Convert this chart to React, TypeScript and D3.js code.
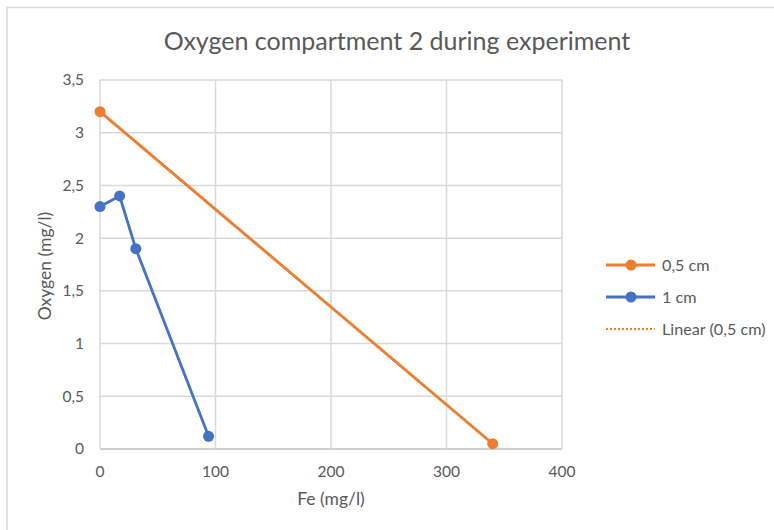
import React from "react";
import * as d3 from "d3";

// Series: Fe (mg/l) vs Oxygen (mg/l)
const feHalfCm = [0, 340];
const oxygenHalfCm = [3.2, 0.05];
const feOneCm = [0, 17, 31, 94];
const oxygenOneCm = [2.3, 2.4, 1.9, 0.12];

const xTicks = [0, 100, 200, 300, 400];
const yTicks = [0, 0.5, 1, 1.5, 2, 2.5, 3, 3.5];

const seriesNames = ["0,5 cm", "1 cm", "Linear (0,5 cm)"];

const W = 774;
const H = 530;
const ORANGE = "#ED7D31";
const BLUE = "#4472C4";
const TEXT = "#595959";
const GRID = "#d9d9d9";
const FONT = "Lato, 'Open Sans', sans-serif";

const fmt = (v: number) => String(v).replace(".", ",");

export default function App() {
  const x = d3.scaleLinear().domain([0, 400]).range([100, 562]);
  const y = d3.scaleLinear().domain([0, 3.5]).range([449, 80]);

  const half = feHalfCm.map((v, i) => [v, oxygenHalfCm[i]] as [number, number]);
  const one = feOneCm.map((v, i) => [v, oxygenOneCm[i]] as [number, number]);

  const line = d3
    .line<[number, number]>()
    .x((d) => x(d[0]))
    .y((d) => y(d[1]));

  // least-squares trendline for the 0,5 cm series
  const mx = d3.mean(feHalfCm) as number;
  const my = d3.mean(oxygenHalfCm) as number;
  const sxy = d3.sum(half, (d) => (d[0] - mx) * (d[1] - my));
  const sxx = d3.sum(half, (d) => (d[0] - mx) ** 2);
  const slope = sxy / sxx;
  const intercept = my - slope * mx;
  const xMin = d3.min(feHalfCm) as number;
  const xMax = d3.max(feHalfCm) as number;
  const trend: [number, number][] = [
    [xMin, intercept + slope * xMin],
    [xMax, intercept + slope * xMax],
  ];

  const legendY = [265, 297, 329];

  return (
    <svg
      width={W}
      height={H}
      style={{ position: "absolute", left: 0, top: 0, background: "#fff" }}
      fontFamily={FONT}
    >
      <rect x={0} y={0} width={W} height={H} fill="#fff" />
      <path d={`M7,${H} V7.5 H${W}`} fill="none" stroke={GRID} strokeWidth={1.5} />

      <text x={397} y={50} textAnchor="middle" fontSize={25} fill={TEXT}>
        Oxygen compartment 2 during experiment
      </text>

      {/* gridlines */}
      {yTicks.map((t) => (
        <line key={"gy" + t} x1={x(0)} x2={x(400)} y1={y(t)} y2={y(t)} stroke={t === 0 ? "#bfbfbf" : GRID} strokeWidth={1.5} />
      ))}
      {xTicks.map((t) => (
        <line key={"gx" + t} x1={x(t)} x2={x(t)} y1={y(0)} y2={y(3.5)} stroke={GRID} strokeWidth={1.5} />
      ))}

      {/* tick labels */}
      {yTicks.map((t) => (
        <text key={"ty" + t} x={84} y={y(t)} dy="0.35em" textAnchor="end" fontSize={15.5} fill={TEXT}>
          {fmt(t)}
        </text>
      ))}
      {xTicks.map((t) => (
        <text key={"tx" + t} x={x(t)} y={472} dy="0.35em" textAnchor="middle" fontSize={15.5} fill={TEXT}>
          {fmt(t)}
        </text>
      ))}

      {/* axis titles */}
      <text x={331} y={499} dy="0.35em" textAnchor="middle" fontSize={17.5} fill={TEXT}>
        Fe (mg/l)
      </text>
      <text
        transform={`translate(45,266) rotate(-90)`}
        dy="0.35em"
        textAnchor="middle"
        fontSize={17.5}
        fill={TEXT}
      >
        Oxygen (mg/l)
      </text>

      {/* trendline */}
      <path d={line(trend) ?? ""} fill="none" stroke={ORANGE} strokeWidth={2.2} strokeDasharray="2 2" />

      {/* series */}
      <path d={line(half) ?? ""} fill="none" stroke={ORANGE} strokeWidth={2.8} />
      {half.map((d, i) => (
        <circle key={"ho" + i} cx={x(d[0])} cy={y(d[1])} r={5.5} fill={ORANGE} />
      ))}
      <path d={line(one) ?? ""} fill="none" stroke={BLUE} strokeWidth={2.8} />
      {one.map((d, i) => (
        <circle key={"ob" + i} cx={x(d[0])} cy={y(d[1])} r={5.5} fill={BLUE} />
      ))}

      {/* legend */}
      <line x1={606} x2={655} y1={legendY[0]} y2={legendY[0]} stroke={ORANGE} strokeWidth={2.8} />
      <circle cx={631} cy={legendY[0]} r={5.5} fill={ORANGE} />
      <line x1={606} x2={655} y1={legendY[1]} y2={legendY[1]} stroke={BLUE} strokeWidth={2.8} />
      <circle cx={631} cy={legendY[1]} r={5.5} fill={BLUE} />
      <line x1={606} x2={655} y1={legendY[2]} y2={legendY[2]} stroke={ORANGE} strokeWidth={2.2} strokeDasharray="2 2" />
      {seriesNames.map((n, i) => (
        <text key={n} x={662} y={legendY[i]} dy="0.35em" fontSize={16.2} fill={TEXT}>
          {n}
        </text>
      ))}
    </svg>
  );
}
